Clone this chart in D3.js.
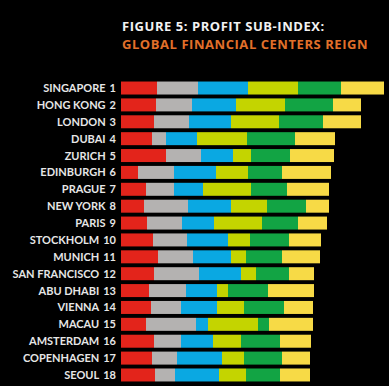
<!DOCTYPE html>
<html>
<head>
<meta charset="utf-8">
<script src="https://cdn.jsdelivr.net/npm/d3@7.9.0/dist/d3.min.js"></script>
<style>
  html, body { margin: 0; padding: 0; background: #000; }
  svg { display: block; }
  text { font-family: Lato, 'Open Sans', sans-serif; font-weight: 700; }
  .title { font-family: 'Open Sans', sans-serif; letter-spacing: 0.55px; }
</style>
</head>
<body>
<svg id="chart" width="389" height="386"></svg>
<script>
const cities = ['SINGAPORE', 'HONG KONG', 'LONDON', 'DUBAI', 'ZURICH', 'EDINBURGH', 'PRAGUE',
  'NEW YORK', 'PARIS', 'STOCKHOLM', 'MUNICH', 'SAN FRANCISCO', 'ABU DHABI', 'VIENNA',
  'MACAU', 'AMSTERDAM', 'COPENHAGEN', 'SEOUL'];

// six component scores per city
const part1 = [36, 35, 33, 31, 45, 17, 25, 23, 26, 32, 37, 33, 28, 30, 25, 33, 31, 34];
const part2 = [41, 36, 35, 14, 35, 36, 28, 44, 35, 34, 35, 45, 37, 30, 50, 27, 25, 20];
const part3 = [50, 44, 42, 31, 32, 42, 29, 43, 32, 41, 38, 42, 31, 36, 12, 32, 45, 44];
const part4 = [50, 49, 48, 50, 18, 32, 48, 36, 48, 22, 15, 15, 11, 27, 50, 28, 22, 27];
const part5 = [43, 48, 44, 48, 39, 34, 36, 39, 36, 39, 36, 33, 40, 40, 11, 39, 38, 34];
const part6 = [43, 28, 38, 40, 44, 49, 42, 23, 29, 32, 38, 25, 46, 29, 44, 31, 28, 30];

const keys = ['p1', 'p2', 'p3', 'p4', 'p5', 'p6'];
const colors = ['#e3241b', '#b4b2b1', '#0aa8e2', '#c4d400', '#12a444', '#f7da46'];

const rows = cities.map((c, i) => ({
  city: c, rank: i + 1,
  p1: part1[i], p2: part2[i], p3: part3[i], p4: part4[i], p5: part5[i], p6: part6[i]
}));

const svg = d3.select('#chart');

svg.append('text').attr('class', 'title').attr('x', 122).attr('y', 31)
  .attr('fill', '#f2f2f2').attr('font-size', 13)
  .text('FIGURE 5: PROFIT SUB-INDEX:');
svg.append('text').attr('class', 'title').attr('x', 122).attr('y', 48.5)
  .attr('fill', '#e2702a').attr('font-size', 13)
  .text('GLOBAL FINANCIAL CENTERS REIGN');

const x = d3.scaleLinear().domain([0, 263]).range([121, 384]);
const y = d3.scaleBand().domain(cities).range([79.5, 383.5]).paddingInner(0.23).paddingOuter(0.12);

const stacked = d3.stack().keys(keys)(rows);

svg.selectAll('g.layer')
  .data(stacked)
  .join('g')
  .attr('class', 'layer')
  .attr('fill', (d, i) => colors[i])
  .selectAll('rect')
  .data(d => d)
  .join('rect')
  .attr('x', d => x(d[0]))
  .attr('y', d => y(d.data.city))
  .attr('width', d => x(d[1]) - x(d[0]))
  .attr('height', y.bandwidth());

const labels = svg.append('g');
rows.forEach(r => {
  const t = labels.append('text')
    .attr('x', 116)
    .attr('y', y(r.city) + y.bandwidth() / 2)
    .attr('dy', '0.36em')
    .attr('text-anchor', 'end')
    .attr('fill', '#e6e6e6')
    .attr('font-size', 11);
  t.append('tspan').text(r.city);
  t.append('tspan').attr('dx', 4).text(r.rank);
});
</script>
</body>
</html>
